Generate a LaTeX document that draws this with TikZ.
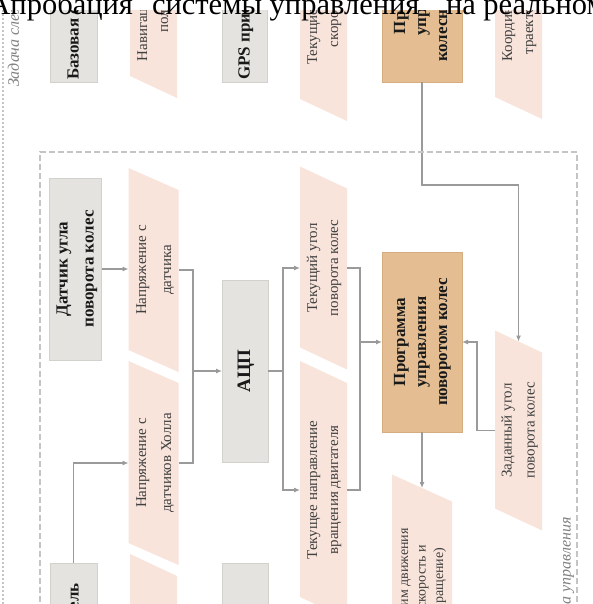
\documentclass[tikz,border=0pt]{standalone}
\usepackage{fontspec}
\setmainfont{Liberation Serif}
\usepackage{tikz}
\usetikzlibrary{arrows.meta, backgrounds}

\definecolor{boxgray}{HTML}{E4E3DF}
\definecolor{boxedge}{HTML}{D2D1CC}
\definecolor{progtan}{HTML}{E4BE92}
\definecolor{progedge}{HTML}{D6AD7E}
\definecolor{datapink}{HTML}{F8E4DB}
\definecolor{linegray}{HTML}{9A9A9A}
\definecolor{framegray}{HTML}{C4C4C4}

% vertical (rotated) multi-line text
\newcommand{\vt}[1]{\rotatebox{90}{\begin{tabular}{@{}c@{}}#1\end{tabular}}}
% slanted data block behind a node
\newcommand{\slantfill}[2]{%
  \fill[datapink] ([yshift=#2pt]#1.north west) -- ([yshift=-#2pt]#1.north east)
    -- ([yshift=-#2pt]#1.south east) -- ([yshift=#2pt]#1.south west) -- cycle;}

\begin{document}
\begin{tikzpicture}[x=1pt, y=-1pt,
    every node/.style={inner sep=0pt, outer sep=0pt},
    hwbox/.style={fill=boxgray, draw=boxedge, line width=0.8pt,
        font=\bfseries\fontsize{17}{26}\selectfont, text=black!90},
    progbox/.style={fill=progtan, draw=progedge, line width=0.6pt,
        font=\bfseries\fontsize{17}{21}\selectfont, text=black!90},
    datab/.style={font=\fontsize{15}{21}\selectfont, text=black!75},
    line/.style={draw=linegray, line width=1.1pt},
    conn/.style={line, -{Latex[length=6pt,width=5pt]}},
    grouplabel/.style={font=\itshape\fontsize{16}{18}\selectfont, text=black!50},
    bigtext/.style={font=\fontsize{30.5}{36}\selectfont}]
    \useasboundingbox (0,0) rectangle (592,604);

    % верхний ряд
    \node[hwbox, minimum width=47pt, inner ysep=2pt, anchor=south] (baza) at (73.5,82) {\vt{Базовая станция}};
    \node[datab, minimum width=47pt, minimum height=226pt] (navi) at (153.5,-26) {\vt{Навигационные параметры\\положения робота}};
    \node[hwbox, minimum width=45pt, inner ysep=2pt, anchor=south] (gps) at (244.5,82) {\vt{GPS приемник}};
    \node[datab, minimum width=47pt, minimum height=226pt] (skor) at (323.5,-3) {\vt{Текущие координаты\\скорость и курс}};
    \node[progbox, minimum width=80pt, minimum height=184pt] (progtop) at (422,-10) {\vt{Программа\\управления\\колесным роботом}};
    \node[datab, minimum width=47pt, minimum height=226pt] (koord) at (518.5,-5) {\vt{Координаты целевой\\траектории робота}};

    % система управления
    \node[hwbox, minimum width=51pt, minimum height=182pt] (dat) at (75.5,269) {\vt{Датчик угла\\поворота колес}};
    \node[hwbox, minimum width=47pt, minimum height=182pt] (dvig) at (73.5,654) {\vt{Электродвигатель}};
    \node[datab, font=\fontsize{15}{25}\selectfont, minimum width=47pt, minimum height=182pt] (nap1) at (153.5,270) {\vt{Напряжение с\\датчика}};
    \node[datab, font=\fontsize{15}{25}\selectfont, minimum width=47pt, minimum height=182pt] (nap2) at (153.5,463) {\vt{Напряжение с\\датчиков Холла}};
    \node[datab, minimum width=47pt, minimum height=182pt] (nap3) at (153.5,656) {};
    \node[hwbox, font=\bfseries\fontsize{19}{26}\selectfont, minimum width=46pt, minimum height=182pt] (adc) at (245,371) {\vt{АЦП}};
    \node[hwbox, minimum width=46pt, minimum height=182pt] (drv) at (245,654) {};
    \node[datab, minimum width=47pt, minimum height=181pt] (ugol) at (323.5,268) {\vt{Текущий угол\\поворота колес}};
    \node[datab, minimum width=47pt, minimum height=236pt] (napr) at (323.5,490) {\vt{Текущее направление\\вращения двигателя}};
    \node[progbox, minimum width=80pt, minimum height=180pt] (prog) at (422,342) {\vt{Программа\\управления\\поворотом колес}};
    \node[datab, font=\fontsize{14}{17.5}\selectfont, minimum width=60pt, minimum height=182pt] (upr) at (422,579) {\vt{Режим движения\\(скорость и\\вращение)}};
    \node[datab, font=\fontsize{15}{23}\selectfont, minimum width=47pt, minimum height=178pt] (zad) at (518.5,430.5) {\vt{Заданный угол\\поворота колес}};

    \begin{scope}[on background layer]
        \foreach \n in {navi,skor,koord,nap1,nap2,nap3,ugol,napr,zad}
            {\slantfill{\n}{11}}
        \slantfill{upr}{13.5}
    \end{scope}

    % связи
    \coordinate (jadc) at (193,371);
    \coordinate (jcur) at (283,371);
    \coordinate (jprog) at (360,342);
    \draw[conn] (dat.east) -- (nap1.west |- dat.east);
    \draw[conn] (dvig.north) |- (nap2.west);
    \draw[line] (nap1.east) -| (jadc);
    \draw[line] (nap2.east) -| (jadc);
    \draw[conn] (jadc) -- (adc.west);
    \draw[line] (adc.east) -- (jcur);
    \draw[conn] (jcur) |- (ugol.west);
    \draw[conn] (jcur) |- (napr.west);
    \draw[line] (ugol.east) -| (jprog);
    \draw[line] (napr.east) -| (jprog);
    \draw[conn] (jprog) -- (prog.west);
    \draw[conn] (progtop.south) -- ++(0,103) -| (zad.north);
    \draw[conn] (zad.west) -- ++(-18,0) |- (prog.east);
    \draw[conn] (prog.south) -- (upr.north);

    % рамки групп
    \draw[framegray, line width=1.3pt, dash pattern=on 6pt off 3pt] (40,620) -- (40,152) -- (577,152) -- (577,620);
    \draw[framegray, line width=1.5pt, dash pattern=on 2pt off 2pt] (3,10) -- (3,620);
    \node[grouplabel, rotate=90, anchor=west] (taskl) at (15,87) {Задача слежения за траекторией};
    \node[grouplabel, rotate=90, anchor=east] (sysl) at (567,517) {Система управления};

    % строка текста над рисунком
    \fill[white] (-10,-60) rectangle (602,10);
    \node[bigtext, anchor=base east] (word1) at (133,15) {Апробация};
    \node[bigtext, anchor=base west] (word2) at (152,15) {системы управления};
    \node[bigtext, anchor=base west] (word3) at (446,15) {на реальном};
\end{tikzpicture}
\end{document}
